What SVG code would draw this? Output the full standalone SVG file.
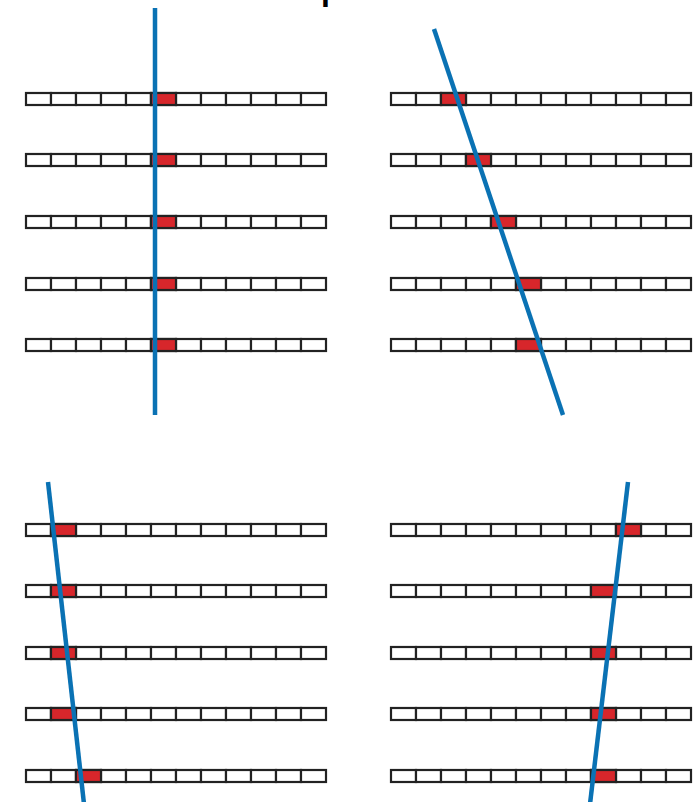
<svg xmlns="http://www.w3.org/2000/svg" width="693" height="802" viewBox="0 0 693 802">
<defs>
<style>
.c{fill:#ffffff;stroke:#222222;stroke-width:2.2}
.r{fill:#d7262b;stroke:#222222;stroke-width:2.2}
.ln{stroke:#0a72b4;stroke-width:4.5;stroke-linecap:butt;fill:none}
</style>
<g id="row">
<rect class="c" x="0" y="0" width="25" height="12"/>
<rect class="c" x="25" y="0" width="25" height="12"/>
<rect class="c" x="50" y="0" width="25" height="12"/>
<rect class="c" x="75" y="0" width="25" height="12"/>
<rect class="c" x="100" y="0" width="25" height="12"/>
<rect class="c" x="125" y="0" width="25" height="12"/>
<rect class="c" x="150" y="0" width="25" height="12"/>
<rect class="c" x="175" y="0" width="25" height="12"/>
<rect class="c" x="200" y="0" width="25" height="12"/>
<rect class="c" x="225" y="0" width="25" height="12"/>
<rect class="c" x="250" y="0" width="25" height="12"/>
<rect class="c" x="275" y="0" width="25" height="12"/>
</g>
</defs>
<rect width="693" height="802" fill="#ffffff"/>
<text x="321" y="-0.5" font-family="Liberation Sans, Arial, sans-serif" font-size="32" font-weight="bold" fill="#000">p</text>

<g id="panel-top-left">
<use href="#row" x="26" y="93"/><rect class="r" x="151" y="93" width="25" height="12"/>
<use href="#row" x="26" y="154"/><rect class="r" x="151" y="154" width="25" height="12"/>
<use href="#row" x="26" y="216"/><rect class="r" x="151" y="216" width="25" height="12"/>
<use href="#row" x="26" y="278"/><rect class="r" x="151" y="278" width="25" height="12"/>
<use href="#row" x="26" y="339"/><rect class="r" x="151" y="339" width="25" height="12"/>
</g>

<g id="panel-top-right">
<use href="#row" x="391" y="93"/><rect class="r" x="441" y="93" width="25" height="12"/>
<use href="#row" x="391" y="154"/><rect class="r" x="466" y="154" width="25" height="12"/>
<use href="#row" x="391" y="216"/><rect class="r" x="491" y="216" width="25" height="12"/>
<use href="#row" x="391" y="278"/><rect class="r" x="516" y="278" width="25" height="12"/>
<use href="#row" x="391" y="339"/><rect class="r" x="516" y="339" width="25" height="12"/>
</g>

<g id="panel-bottom-left">
<use href="#row" x="26" y="524"/><rect class="r" x="51" y="524" width="25" height="12"/>
<use href="#row" x="26" y="585"/><rect class="r" x="51" y="585" width="25" height="12"/>
<use href="#row" x="26" y="647"/><rect class="r" x="51" y="647" width="25" height="12"/>
<use href="#row" x="26" y="708"/><rect class="r" x="51" y="708" width="25" height="12"/>
<use href="#row" x="26" y="770"/><rect class="r" x="76" y="770" width="25" height="12"/>
</g>

<g id="panel-bottom-right">
<use href="#row" x="391" y="524"/><rect class="r" x="616" y="524" width="25" height="12"/>
<use href="#row" x="391" y="585"/><rect class="r" x="591" y="585" width="25" height="12"/>
<use href="#row" x="391" y="647"/><rect class="r" x="591" y="647" width="25" height="12"/>
<use href="#row" x="391" y="708"/><rect class="r" x="591" y="708" width="25" height="12"/>
<use href="#row" x="391" y="770"/><rect class="r" x="591" y="770" width="25" height="12"/>
</g>

<g id="connectors">
<line class="ln" x1="155" y1="8" x2="155" y2="415"/>
<line class="ln" x1="434" y1="29" x2="563" y2="415"/>
<line class="ln" x1="48" y1="482" x2="84" y2="804"/>
<line class="ln" x1="628" y1="482" x2="590" y2="804"/>
</g>
</svg>
